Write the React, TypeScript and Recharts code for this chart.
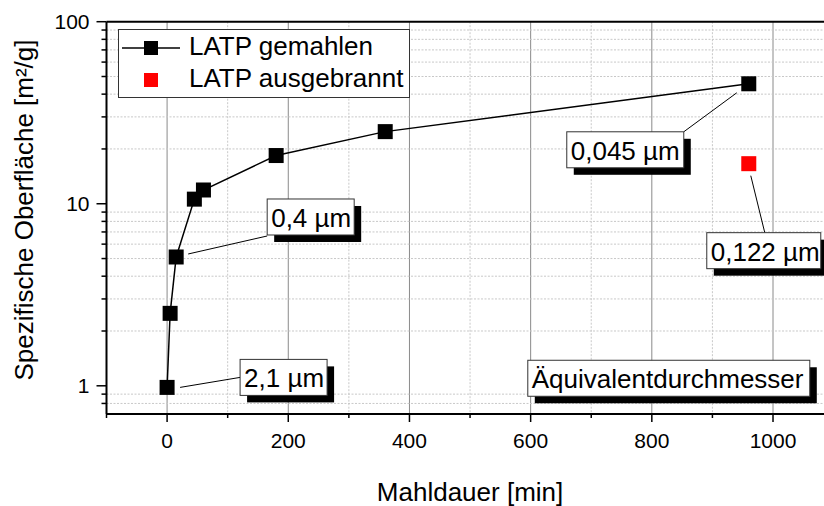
import React from "react";
import {
  ScatterChart,
  Scatter,
  XAxis,
  YAxis,
  CartesianGrid,
  ReferenceLine,
  ReferenceDot,
  Legend,
  Label,
} from "recharts";

const FONT = "'Liberation Sans', Arial, sans-serif";

// milling time [min] vs. BET surface [m²/g]
const millingMinutes = [0, 5, 15, 45, 60, 180, 360, 960];
const surfaceMilled = [0.98, 2.5, 5.1, 10.6, 11.9, 18.4, 24.9, 45.6];
const burnedMinutes = [960];
const surfaceBurned = [16.6];

const seriesNames = ["LATP gemahlen", "LATP ausgebrannt"];
const diameterLabels = ["2,1 µm", "0,4 µm", "0,045 µm", "0,122 µm"];
const boxTitle = "Äquivalentdurchmesser";

const xTicks = [-100, 0, 100, 200, 300, 400, 500, 600, 700, 800, 900, 1000, 1100];
const xMajor = [0, 200, 400, 600, 800, 1000];
const xMinor = [100, 300, 500, 700, 900, 1100];
const yTicks = [0.8, 0.9, 1, 2, 3, 4, 5, 6, 7, 8, 9, 10, 20, 30, 40, 50, 60, 70, 80, 90, 100];
const yMajor = [1, 10, 100];
const yMinor = yTicks.filter((v) => !yMajor.includes(v));

const milled = millingMinutes.map((x, i) => ({ x, y: surfaceMilled[i] }));
const burned = burnedMinutes.map((x, i) => ({ x, y: surfaceBurned[i] }));

// callouts: anchor point, box offset from the marker, leader line offsets
const callouts = [
  { text: diameterLabels[0], at: milled[0], box: [73, -28], w: 87, lead: [13, 0, 73, -10] },
  { text: diameterLabels[1], at: milled[2], box: [91, -58], w: 87, lead: [12, -3, 91, -21] },
  { text: diameterLabels[2], at: milled[7], box: [-182, 48], w: 117, lead: [-12, 9, -65, 48] },
  { text: diameterLabels[3], at: burned[0], box: [-42, 69], w: 114, lead: [2, 12, 16, 69] },
];

const square = (fill: string, size: number) => (props: any) => (
  <rect x={props.cx - size / 2} y={props.cy - size / 2} width={size} height={size} fill={fill} />
);

function CalloutBox({ cx, cy, c }: any) {
  const bx = cx + c.box[0];
  const by = cy + c.box[1];
  return (
    <g>
      {c.lead && (
        <line
          x1={cx + c.lead[0]}
          y1={cy + c.lead[1]}
          x2={cx + c.lead[2]}
          y2={cy + c.lead[3]}
          stroke="#000"
          strokeWidth={1}
        />
      )}
      <rect x={bx + 7} y={by + 7} width={c.w} height={36} fill="#000" />
      <rect x={bx} y={by} width={c.w} height={36} fill="#fff" stroke="#333" strokeWidth={1} />
      <text x={bx + 4} y={by + 28} fontSize={26} fontFamily={FONT} fill="#000">
        {c.text}
      </text>
    </g>
  );
}

function XTick({ x, y, payload }: any) {
  const major = xMajor.includes(payload.value);
  return (
    <g>
      <line x1={x} x2={x} y1={y} y2={y + (major ? 8 : 4)} stroke="#000" strokeWidth={1.5} />
      {major && (
        <text x={x} y={y + 34} textAnchor="middle" fontSize={21} fontFamily={FONT} fill="#000">
          {payload.value}
        </text>
      )}
    </g>
  );
}

function YTick({ x, y, payload }: any) {
  const major = yMajor.includes(payload.value);
  return (
    <g>
      <line x1={x - (major ? 10 : 5)} x2={x} y1={y} y2={y} stroke="#000" strokeWidth={1.5} />
      {major && (
        <text x={x - 17} y={y + 7.5} textAnchor="end" fontSize={21} fontFamily={FONT} fill="#000">
          {payload.value}
        </text>
      )}
    </g>
  );
}

function LegendBox() {
  return (
    <svg width={293} height={70} style={{ display: "block" }}>
      <rect x={0.5} y={0.5} width={291} height={68} fill="#fff" stroke="#333" strokeWidth={1} />
      <line x1={4} x2={62} y1={19} y2={19} stroke="#000" strokeWidth={1.5} />
      <rect x={26} y={12} width={14} height={14} fill="#000" />
      <text x={71} y={26} fontSize={26} fontFamily={FONT} fill="#000">
        {seriesNames[0]}
      </text>
      <rect x={26} y={44} width={14} height={14} fill="#ff0000" />
      <text x={71} y={58} fontSize={26} fontFamily={FONT} fill="#000">
        {seriesNames[1]}
      </text>
    </svg>
  );
}

export default function App() {
  return (
    <div
      style={{
        position: "absolute",
        left: 0,
        top: 0,
        width: 824,
        height: 506,
        overflow: "hidden",
        background: "#fff",
      }}
    >
      <ScatterChart
        width={848}
        height={506}
        margin={{ top: 21.7, right: 14.4, bottom: 32, left: 0.5 }}
      >
        <CartesianGrid
          horizontal={false}
          verticalValues={xMajor}
          stroke="#8a8a8a"
          strokeWidth={1}
        />
        <CartesianGrid
          horizontalValues={yMinor}
          verticalValues={xMinor}
          stroke="#c8c8c8"
          strokeDasharray="2 1.5"
          strokeWidth={1}
        />
        <XAxis
          type="number"
          dataKey="x"
          domain={[-100, 1100]}
          ticks={xTicks}
          interval={0}
          tick={<XTick />}
          tickLine={false}
          tickSize={0}
          tickMargin={0}
          height={60}
          axisLine={{ stroke: "#000", strokeWidth: 2 }}
          allowDataOverflow
        >
          <Label
            content={({ viewBox }: any) => (
              <text
                x={viewBox.x + viewBox.width / 2}
                y={501}
                textAnchor="middle"
                fontSize={26}
                fontFamily={FONT}
                fill="#000"
              >
                Mahldauer [min]
              </text>
            )}
          />
        </XAxis>
        <YAxis
          type="number"
          dataKey="y"
          scale="log"
          domain={[0.7, 100]}
          ticks={yTicks}
          interval={0}
          tick={<YTick />}
          tickLine={false}
          tickSize={0}
          tickMargin={0}
          width={106}
          axisLine={{ stroke: "#000", strokeWidth: 2 }}
          allowDataOverflow
        >
          <Label
            content={() => (
              <text
                x={33}
                y={210}
                transform="rotate(-90 33 210)"
                textAnchor="middle"
                fontSize={26}
                fontFamily={FONT}
                fill="#000"
              >
                Spezifische Oberfläche [m²/g]
              </text>
            )}
          />
        </YAxis>
        <ReferenceLine y={100} stroke="#000" strokeWidth={2} />
        <Scatter
          name={seriesNames[0]}
          data={milled}
          fill="#000"
          line={{ stroke: "#000", strokeWidth: 1.5 }}
          shape={square("#000", 15)}
          isAnimationActive={false}
        />
        <Scatter
          name={seriesNames[1]}
          data={burned}
          fill="#ff0000"
          shape={square("#ff0000", 15)}
          isAnimationActive={false}
        />
        {callouts.map((c, i) => (
          <ReferenceDot
            key={i}
            x={c.at.x}
            y={c.at.y}
            ifOverflow="visible"
            shape={(p: any) => <CalloutBox cx={p.cx} cy={p.cy} c={c} />}
          />
        ))}
        <ReferenceDot
          x={828}
          y={1.1}
          ifOverflow="visible"
          shape={(p: any) => (
            <CalloutBox cx={p.cx} cy={p.cy} c={{ text: boxTitle, box: [-141, -18], w: 282 }} />
          )}
        />
        <Legend
          layout="vertical"
          align="center"
          verticalAlign="middle"
          wrapperStyle={{ left: 118, top: 29, width: 293, height: 70 }}
          content={() => <LegendBox />}
        />
      </ScatterChart>
    </div>
  );
}
